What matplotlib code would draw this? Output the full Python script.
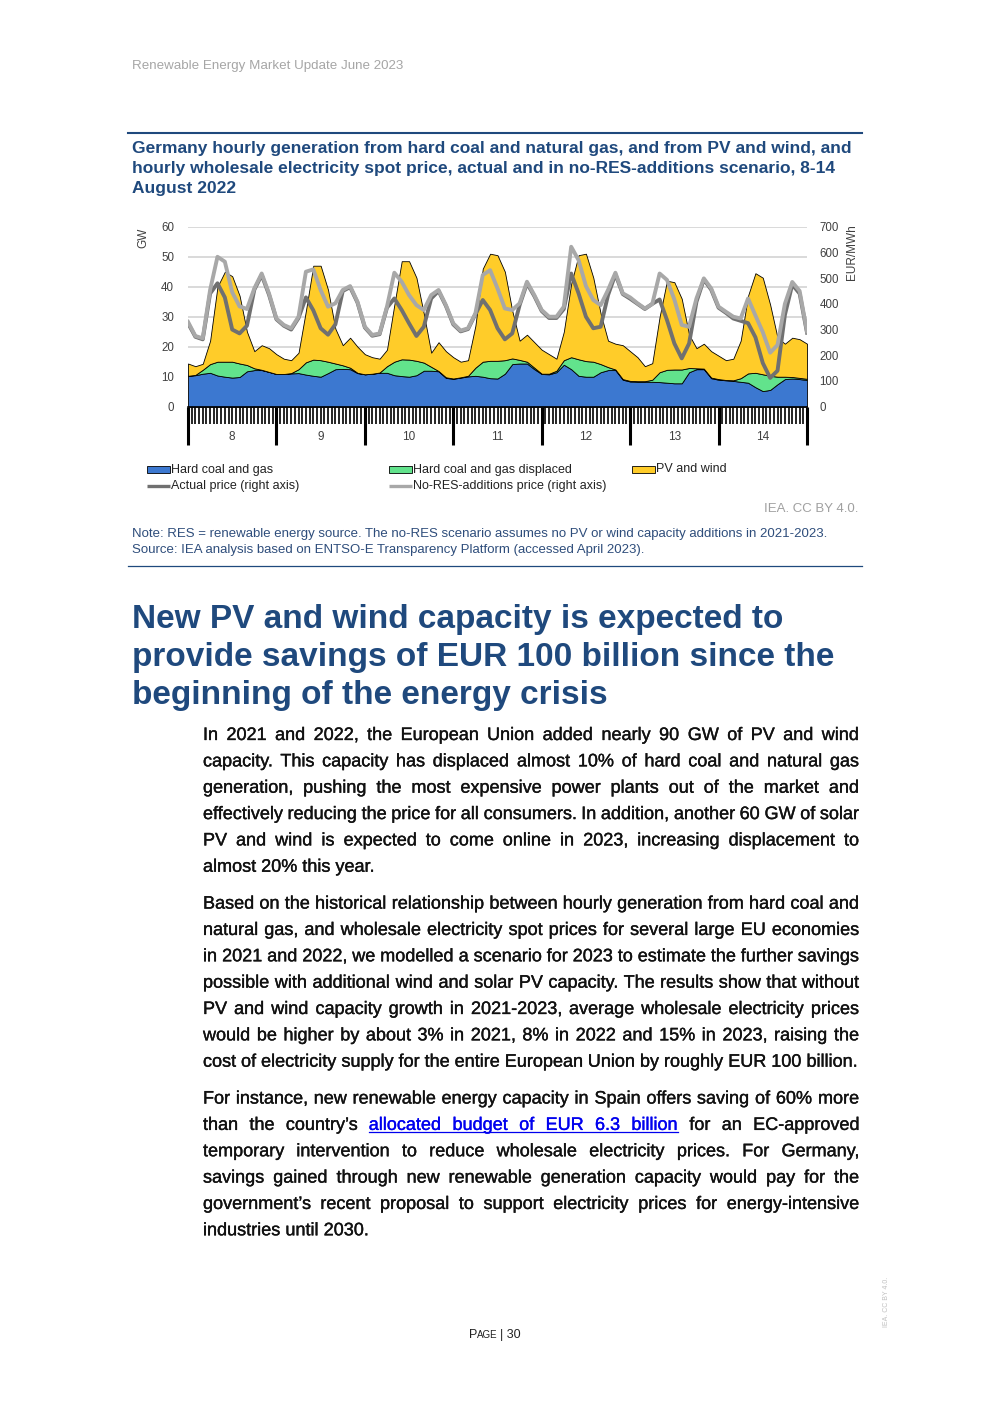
import numpy as np
import matplotlib
matplotlib.use('Agg')
import matplotlib.pyplot as plt
import matplotlib.patheffects as pe
from matplotlib.patches import Rectangle

plt.rcParams['font.family'] = ['Liberation Sans', 'DejaVu Sans']

# 2-hourly readings, 8 Aug 00:00 to 15 Aug 00:00
hours = np.arange(0, 169, 2)
days = ['8', '9', '10', '11', '12', '13', '14']

coal_gas = [10.3, 10.5, 11.0, 11.3, 10.4, 10.0, 9.7, 9.9, 11.8, 12.2, 12.2, 11.6,
            10.9, 10.9, 11.1, 11.2, 10.7, 10.3, 10.0, 11.2, 12.5, 12.6, 12.5, 11.2,
            10.8, 11.0, 11.3, 11.3, 10.5, 10.2, 10.0, 10.5, 12.0, 12.0, 11.8, 9.6,
            9.3, 9.7, 10.1, 10.3, 10.0, 9.5, 9.4, 11.0, 14.2, 14.4, 14.4, 12.5,
            10.9, 10.8, 11.5, 14.0, 12.5, 10.3, 10.0, 10.0, 11.5, 12.2, 12.2, 9.0,
            8.4, 8.3, 8.3, 8.3, 8.2, 8.0, 7.8, 7.8, 11.5, 12.5, 12.5, 9.5,
            9.0, 8.8, 8.6, 8.3, 8.0, 6.5, 5.2, 5.6, 7.5, 9.2, 9.4, 9.2,
            8.9]
displaced = [0.0, 0.1, 1.3, 2.9, 4.6, 5.0, 5.3, 4.5, 2.1, 0.6, 0.1, 0.0,
             0.0, 0.0, 0.1, 1.3, 4.1, 5.4, 5.5, 3.8, 1.9, 1.2, 0.5, 0.1,
             0.0, 0.0, 0.1, 2.2, 4.5, 5.6, 5.7, 4.8, 2.7, 1.3, 0.1, 0.2,
             0.1, 0.1, 0.2, 2.7, 5.0, 5.8, 5.9, 4.5, 1.9, 1.2, 0.6, 0.5,
             0.1, 0.2, 0.5, 1.5, 4.0, 5.5, 5.2, 5.0, 2.7, 1.0, 0.2, 0.2,
             0.2, 0.2, 0.2, 0.7, 3.3, 4.3, 4.6, 4.6, 1.4, 0.3, 0.2, 0.2,
             0.2, 0.1, 0.2, 1.2, 3.1, 4.8, 5.6, 4.7, 2.5, 0.8, 0.5, 0.4,
             0.4]
pv_wind = [4.1, 2.9, 2.0, 7.8, 25.0, 30.0, 28.5, 22.6, 11.1, 5.7, 8.2, 7.9,
           6.6, 5.1, 4.3, 5.5, 17.2, 31.3, 31.5, 24.0, 11.6, 6.7, 10.0, 8.7,
           6.7, 5.5, 4.6, 5.5, 19.0, 32.7, 32.8, 27.7, 16.3, 4.7, 9.6, 8.7,
           7.1, 5.2, 5.2, 14.0, 31.0, 35.7, 35.2, 29.5, 15.9, 6.4, 9.0, 8.5,
           8.0, 6.5, 4.0, 9.5, 24.5, 34.7, 35.8, 28.0, 16.8, 8.8, 8.6, 11.3,
           9.9, 8.0, 5.0, 5.5, 18.5, 29.7, 29.1, 23.6, 11.1, 6.7, 8.3, 8.8,
           7.8, 6.6, 7.2, 12.5, 25.9, 33.2, 32.2, 23.7, 13.0, 11.0, 13.1, 12.9,
           11.7]
actual_price = [325, 272, 262, 440, 480, 425, 300, 285, 315, 455, 512, 435,
                340, 315, 300, 345, 425, 375, 305, 280, 320, 450, 465, 405,
                308, 276, 282, 385, 421, 376, 324, 275, 311, 421, 450, 392,
                320, 293, 302, 360, 415, 376, 305, 262, 285, 395, 480, 430,
                372, 345, 345, 380, 518, 441, 350, 305, 311, 434, 515, 438,
                420, 400, 380, 400, 417, 337, 246, 188, 246, 408, 495, 455,
                385, 365, 343, 334, 325, 270, 170, 112, 140, 357, 475, 440,
                288]
nores_price = [330, 275, 266, 454, 583, 564, 445, 390, 380, 460, 518, 440,
               343, 318, 305, 350, 525, 534, 454, 389, 402, 454, 469, 408,
               311, 279, 285, 389, 521, 486, 434, 395, 376, 434, 454, 395,
               324, 296, 305, 363, 512, 531, 460, 382, 376, 402, 486, 434,
               376, 350, 350, 389, 622, 570, 469, 415, 395, 454, 521, 441,
               425, 402, 382, 399, 518, 493, 417, 318, 311, 421, 499, 460,
               389, 369, 350, 343, 421, 355, 290, 210, 240, 400, 485, 450,
               292]

c_blue = '#3c78d0'
c_green = '#62e38c'
c_yellow = '#ffcc29'
c_dark = '#707070'
c_light = '#a8a8a8'
navy = '#1f497d'
note_col = '#2e4d7b'
axis_txt = '#404040'

W, H = 992, 1403
fig = plt.figure(figsize=(W / 100, H / 100), dpi=100)

# page layer in pixel coordinates
pg = fig.add_axes([0, 0, 1, 1])
pg.set_xlim(0, W)
pg.set_ylim(H, 0)
pg.axis('off')

# chart
ax = fig.add_axes([188 / W, 1 - 406.7 / H, 619 / W, 180 / H])
ax.patch.set_alpha(0)
ax.stackplot(hours, coal_gas, displaced, pv_wind,
             colors=[c_blue, c_green, c_yellow], edgecolor='black', linewidth=0.6)
ax.set_xlim(0, 168)
ax.set_ylim(0, 60)
ax.set_yticks(range(0, 61, 10))
ax.set_axisbelow(True)
ax.yaxis.grid(True, color='#d9d9d9', lw=1.4)
ax.set_xticks(range(0, 169, 24))
ax.set_xticklabels([])
ax.set_xticks(range(0, 169), minor=True)
ax.tick_params(axis='x', which='minor', length=12, width=1.2, color='black')
ax.tick_params(axis='x', which='major', length=27, width=2.2, color='black')
ax.tick_params(axis='y', length=0, labelsize=8.3, labelcolor=axis_txt, pad=10)
for s in ['top', 'left', 'right']:
    ax.spines[s].set_visible(False)
ax.spines['bottom'].set_linewidth(1.2)
for i, d in enumerate(days):
    ax.text(12 + 24 * i, -0.17, d, transform=ax.get_xaxis_transform(),
            ha='center', va='center', fontsize=8.5, color=axis_txt)

ax2 = ax.twinx()
ax2.plot(hours, actual_price, color=c_dark, lw=2.8, solid_joinstyle='round')
ax2.plot(hours, nores_price, color=c_light, lw=2.8, solid_joinstyle='round')
ax2.set_ylim(0, 700)
ax2.set_yticks(range(0, 701, 100))
ax2.tick_params(axis='y', length=0, labelsize=8.3, labelcolor=axis_txt, pad=9)
for s in ax2.spines.values():
    s.set_visible(False)

pg.text(143, 238, 'GW', rotation=90, ha='center', va='center', fontsize=8.5, color=axis_txt)
pg.text(852, 252, 'EUR/MWh', rotation=90, ha='center', va='center', fontsize=8.5, color=axis_txt)

# header and chart title
pg.text(132, 66, 'Renewable Energy Market Update June 2023', fontsize=9.6,
        color='#a6a6a6', va='center')
pg.plot([128, 862], [132.5, 132.5], color=navy, lw=1.5)
title = ['Germany hourly generation from hard coal and natural gas, and from PV and wind, and',
         'hourly wholesale electricity spot price, actual and in no-RES-additions scenario, 8-14',
         'August 2022']
for i, t in enumerate(title):
    pg.text(132, 148 + 20 * i, t, fontsize=12.55, fontweight='bold', color=navy, va='center')

# legend
leg_boxes = [(147, 'Hard coal and gas', c_blue), (389, 'Hard coal and gas displaced', c_green),
             (632, 'PV and wind', c_yellow)]
for x, lab, c in leg_boxes:
    pg.add_patch(Rectangle((x, 466), 23, 7, fc=c, ec='black', lw=0.6))
    pg.text(x + 24, 469.5, lab, fontsize=9, va='center', color='#222222')
leg_lines = [(147, 'Actual price (right axis)', c_dark),
             (389, 'No-RES-additions price (right axis)', c_light)]
for x, lab, c in leg_lines:
    pg.plot([x, x + 23], [486, 486], color=c, lw=2.4, solid_capstyle='butt')
    pg.text(x + 24, 486, lab, fontsize=9, va='center', color='#222222')

pg.text(858, 509, 'IEA. CC BY 4.0.', ha='right', va='center', fontsize=9.5, color='#a0a0a0')
pg.text(132, 534, 'Note: RES = renewable energy source. The no-RES scenario assumes no PV or wind '
        'capacity additions in 2021-2023.', fontsize=9.5, va='center', color=note_col)
pg.text(132, 550, 'Source: IEA analysis based on ENTSO-E Transparency Platform (accessed April 2023).',
        fontsize=9.5, va='center', color=note_col)
pg.plot([128, 862], [566, 566], color=navy, lw=0.9)

# section heading
heading = ['New PV and wind capacity is expected to',
           'provide savings of EUR 100 billion since the',
           'beginning of the energy crisis']
for i, t in enumerate(heading):
    pg.text(132, 619.5 + 38 * i, t, fontsize=24, fontweight='bold', color=navy, va='center')

# body text, justified line by line
link = 'allocated budget of EUR 6.3 billion'
paragraphs = [
    ['In 2021 and 2022, the European Union added nearly 90 GW of PV and wind',
     'capacity. This capacity has displaced almost 10% of hard coal and natural gas',
     'generation, pushing the most expensive power plants out of the market and',
     'effectively reducing the price for all consumers. In addition, another 60 GW of solar',
     'PV and wind is expected to come online in 2023, increasing displacement to',
     'almost 20% this year.'],
    ['Based on the historical relationship between hourly generation from hard coal and',
     'natural gas, and wholesale electricity spot prices for several large EU economies',
     'in 2021 and 2022, we modelled a scenario for 2023 to estimate the further savings',
     'possible with additional wind and solar PV capacity. The results show that without',
     'PV and wind capacity growth in 2021-2023, average wholesale electricity prices',
     'would be higher by about 3% in 2021, 8% in 2022 and 15% in 2023, raising the',
     'cost of electricity supply for the entire European Union by roughly EUR 100 billion.'],
    ['For instance, new renewable energy capacity in Spain offers saving of 60% more',
     'than the country\u2019s allocated budget of EUR 6.3 billion for an EC-approved',
     'temporary intervention to reduce wholesale electricity prices. For Germany,',
     'savings gained through new renewable generation capacity would pay for the',
     'government\u2019s recent proposal to support electricity prices for energy-intensive',
     'industries until 2030.'],
]

r = fig.canvas.get_renderer()
bsize = 13
x0, x1 = 203, 859
lh = 26.35
body_col = '#111111'
link_col = '#0000ee'


def put_line(line, y, justify):
    words = line.split(' ')
    in_link = [False] * len(words)
    if link in line:
        start = len(line[:line.index(link)].split(' ')) - 1
        for k in range(start, start + len(link.split(' '))):
            in_link[k] = True
    objs = []
    for w, lk in zip(words, in_link):
        c = link_col if lk else body_col
        objs.append(pg.text(0, y, w, fontsize=bsize, va='baseline', color=c,
                            path_effects=[pe.withStroke(linewidth=0.25, foreground=c)]))
    widths = [o.get_window_extent(renderer=r).width for o in objs]
    if justify:
        gap = (x1 - x0 - sum(widths)) / (len(words) - 1)
    else:
        gap = bsize * 100 / 72 * 0.278
    x = x0
    lx = []
    for o, w, lk in zip(objs, widths, in_link):
        o.set_x(x)
        if lk:
            lx.append((x, x + w))
        x += w + gap
    if lx:
        pg.plot([lx[0][0], lx[-1][1]], [y + 2.5, y + 2.5], color=link_col, lw=0.9)


y = 740
for para in paragraphs:
    for j, line in enumerate(para):
        put_line(line, y, j < len(para) - 1)
        y += lh
    y += 10.5

# footer
pf = pg.text(469, 1338, 'P', fontsize=9, va='baseline', color='#222222')
wp = pf.get_window_extent(renderer=r).width
pa = pg.text(469 + wp, 1338, 'AGE', fontsize=7, va='baseline', color='#222222')
wa = pa.get_window_extent(renderer=r).width
pg.text(469 + wp + wa + 2, 1338, '| 30', fontsize=9, va='baseline', color='#222222')
pg.text(886, 1302, 'IEA. CC BY 4.0.', rotation=90, ha='center', va='center',
        fontsize=5, color='#c0c0c0')

fig.savefig('out.png', dpi=100)
